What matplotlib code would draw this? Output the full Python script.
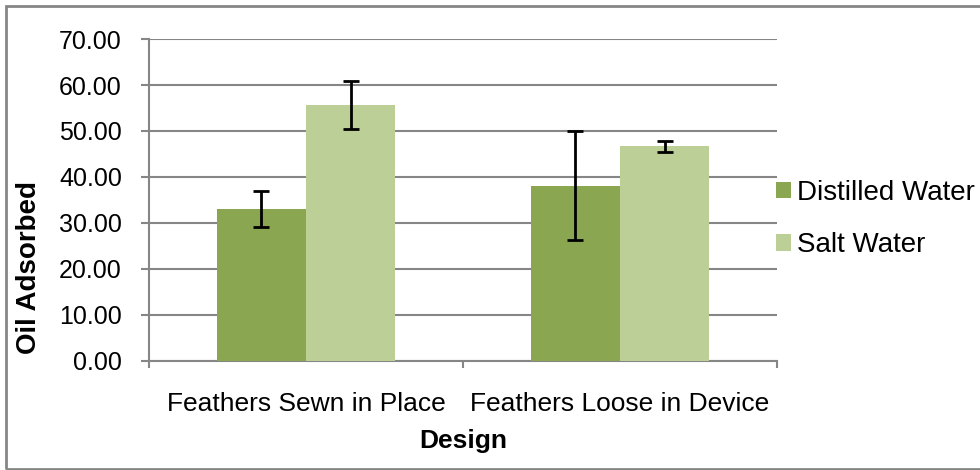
import matplotlib.pyplot as plt
from matplotlib.patches import Rectangle
import numpy as np

# Data
designs = ['Feathers Sewn in Place', 'Feathers Loose in Device']
distilled = [33.0, 38.1]
distilled_err = [3.9, 11.9]
salt = [55.6, 46.7]
salt_err = [5.2, 1.2]

plt.rcParams['font.family'] = ['Liberation Sans', 'DejaVu Sans']
plt.rcParams['font.size'] = 18

grey = '#868686'
fig = plt.figure(figsize=(9.8, 4.7), dpi=100)
ax = fig.add_axes([0.152, 0.232, 0.641, 0.685])

x = np.arange(len(designs))
w = 0.284
ax.bar(x - w / 2, distilled, w, color='#8BA650', label='Distilled Water', zorder=3)
ax.bar(x + w / 2, salt, w, color='#BBCF97', label='Salt Water', zorder=3)
ax.errorbar(x - w / 2, distilled, yerr=distilled_err, fmt='none', ecolor='black',
            elinewidth=2, capsize=6, capthick=2, zorder=4)
ax.errorbar(x + w / 2, salt, yerr=salt_err, fmt='none', ecolor='black',
            elinewidth=2, capsize=6, capthick=2, zorder=4)

ax.set_xlim(-0.5, 1.5)
ax.set_ylim(0, 70)
ax.set_yticks(np.arange(0, 71, 10))
ax.set_yticklabels([f'{v:.2f}' for v in np.arange(0, 71, 10)])
ax.yaxis.grid(True, color=grey, linewidth=1.5, zorder=0)
ax.set_axisbelow(True)

ax.set_xticks(x)
ax.set_xticklabels(designs, fontsize=19)
ax.set_xticks([-0.5, 0.5, 1.5], minor=True)
ax.tick_params(axis='x', which='major', length=0, pad=22)
ax.tick_params(axis='x', which='minor', length=5, width=1.5, color=grey)
ax.tick_params(axis='y', length=5.5, width=1.5, color=grey, pad=14)

for s in ['top', 'right']:
    ax.spines[s].set_visible(False)
for s in ['left', 'bottom']:
    ax.spines[s].set_color(grey)
    ax.spines[s].set_linewidth(1.5)

ax.set_xlabel('Design', fontweight='bold', fontsize=19)
ax.xaxis.set_label_coords(0.5, -0.212)
ax.set_ylabel('Oil Adsorbed', fontweight='bold', fontsize=20)
ax.yaxis.set_label_coords(-0.171, 0.289)

fig.legend(loc='center left', bbox_to_anchor=(0.7806, 0.534), frameon=False, fontsize=20,
           handlelength=0.54, handleheight=0.54, handletextpad=0.22, labelspacing=0.95,
           borderaxespad=0)

fig.patches.append(Rectangle((6 / 980, 1 / 470), 1.0, 463 / 470, transform=fig.transFigure,
                             fill=False, edgecolor=grey, linewidth=2))

fig.savefig('out.png', dpi=100)
